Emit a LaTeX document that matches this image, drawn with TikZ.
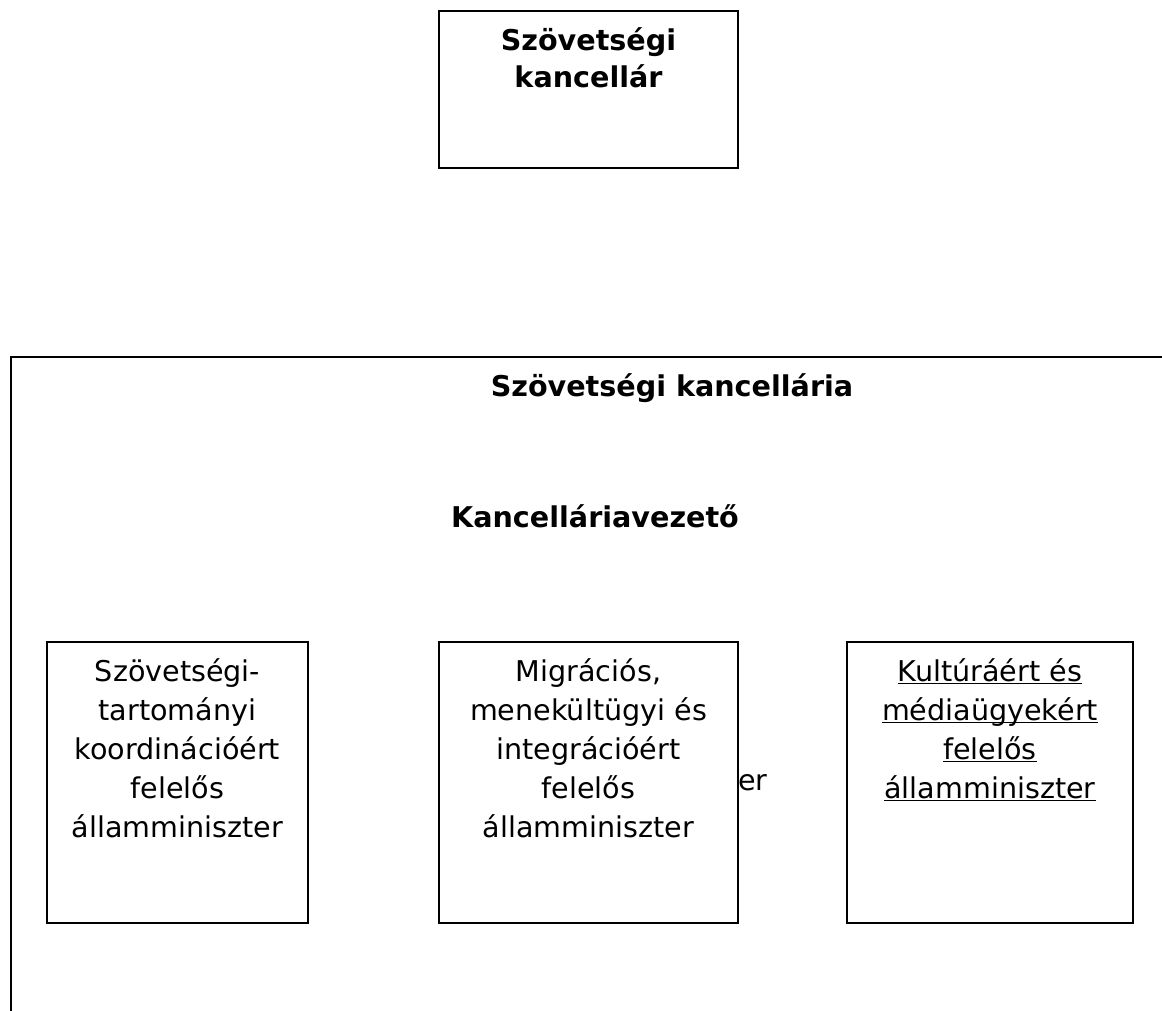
\documentclass[tikz,border=0pt]{standalone}
\usepackage{fontspec}
\setmainfont{DejaVu Sans}
\newcommand{\uline}[1]{\underline{\raisebox{0pt}[\height][0pt]{#1}}}
\begin{document}
\begin{tikzpicture}[x=1pt,y=-1pt,
  frame/.style={draw=black,line width=2pt,fill=white,inner sep=0pt},
  reg/.style={inner sep=0pt,align=center,font=\fontsize{28.6}{39}\selectfont},
  bld/.style={inner sep=0pt,align=center,font=\fontsize{28.6}{37}\selectfont\bfseries}]
\useasboundingbox (0,0) rectangle (1162,1010);
% outer frame of the chancellery (cut off by the picture's edge)
\coordinate (fa) at (11,1012);
\coordinate (fb) at (11,357);
\coordinate (fc) at (1164,357);
\draw[line width=2pt] (fa) -- (fb) -- (fc);
% chancellor
\node[frame,minimum width=299,minimum height=157] (chbox) at (588.5,89.5) {};
\node[bld,anchor=north] (chtxt) at ([yshift=-17.5]chbox.north) {Szövetségi\\kancellár};
% titles
\node[bld,anchor=base] (kanc) at (672,396) {Szövetségi kancellária};
\node[bld,anchor=base] (vez) at (595,527) {Kancelláriavezető};
% hidden text fragment
\node[reg,anchor=base west] (er) at (738,790) {er};
% three ministers
\node[frame,minimum width=261,minimum height=281] (b1) at (177.5,782.5) {};
\node[frame,minimum width=299,minimum height=281] (b2) at (588.5,782.5) {};
\node[frame,minimum width=286,minimum height=281] (b3) at (990,782.5) {};
\node[reg,anchor=north] (t1) at ([yshift=-17.5]b1.north) {Szövetségi-\\tartományi\\koordinációért\\felelős\\államminiszter};
\node[reg,anchor=north] (t2) at ([yshift=-17.5]b2.north) {Migrációs,\\menekültügyi és\\integrációért\\felelős\\államminiszter};
\node[reg,anchor=north] (t3) at ([yshift=-17.5]b3.north) {\uline{Kultúráért és}\\\uline{médiaügyekért}\\\uline{felelős}\\\uline{államminiszter}};
\end{tikzpicture}
\end{document}
